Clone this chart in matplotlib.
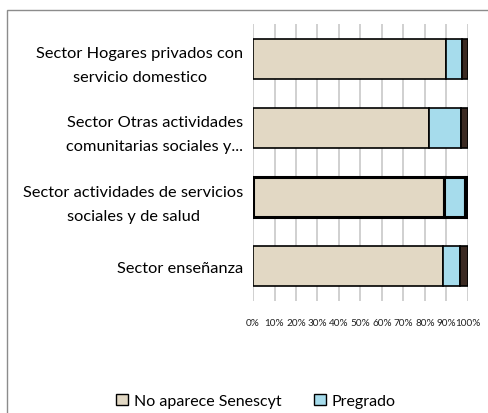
import matplotlib
matplotlib.use("Agg")
import matplotlib.pyplot as plt
from matplotlib.patches import Patch, Rectangle
import numpy as np

plt.rcParams['font.family'] = ['Lato', 'DejaVu Sans']

sectors = ["Sector Hogares privados con\nservicio domestico",
           "Sector Otras actividades\ncomunitarias sociales y...",
           "Sector actividades de servicios\nsociales y de salud",
           "Sector enseñanza"]
no_aparece = [90.0, 82.0, 89.0, 88.5]
pregrado = [7.2, 14.7, 9.7, 7.8]
otros = [2.8, 3.3, 1.3, 3.7]
edge_widths = [1.2, 1.2, 2.2, 1.2]

ticks = np.arange(0, 101, 10)
tick_labels = [f"{t}%" for t in ticks]

c_beige = "#E2D8C4"
c_blue = "#A6DCEC"
c_dark = "#3B2A22"

fig = plt.figure(figsize=(4.89, 4.14), dpi=100)
ax = fig.add_axes([0.5174, 0.2705, 0.4396, 0.6691])

y = np.arange(len(sectors))
left2 = np.array(no_aparece) + np.array(pregrado)
h = 0.58
ax.barh(y, no_aparece, height=h, color=c_beige, edgecolor="black", linewidth=edge_widths, zorder=3)
ax.barh(y, pregrado, left=no_aparece, height=h, color=c_blue, edgecolor="black", linewidth=edge_widths, zorder=3)
ax.barh(y, otros, left=left2, height=h, color=c_dark, edgecolor="black", linewidth=edge_widths, zorder=3)

ax.set_xlim(0, 100)
ax.set_ylim(len(sectors) - 0.5, -0.5)
ax.set_xticks(ticks)
ax.set_xticklabels(tick_labels, fontsize=7.2, color="#222222")
ax.set_yticks(y)
ax.set_yticklabels(sectors, fontsize=11.8, ha="right", multialignment="center", linespacing=1.9)
ax.tick_params(axis="y", length=0, pad=7)
ax.tick_params(axis="x", length=0, pad=12)
ax.grid(axis="x", color="#C8C8C8", linewidth=1.2, zorder=0)
for s in ax.spines.values():
    s.set_visible(False)

handles = [Patch(facecolor=c_beige, edgecolor="black", label="No aparece Senescyt"),
           Patch(facecolor=c_blue, edgecolor="black", label="Pregrado")]
fig.legend(handles=handles, loc="center", bbox_to_anchor=(0.523, 0.029), ncol=2,
           frameon=False, fontsize=11.5, handlelength=0.75, handleheight=0.75,
           handletextpad=0.35, columnspacing=2.0)

fig.patches.append(Rectangle((7 / 489, -0.05), 1.1, 0.973 + 0.05, transform=fig.transFigure,
                             fill=False, edgecolor="#8C8C8C", linewidth=1.0))

fig.savefig("out.png", dpi=100)
